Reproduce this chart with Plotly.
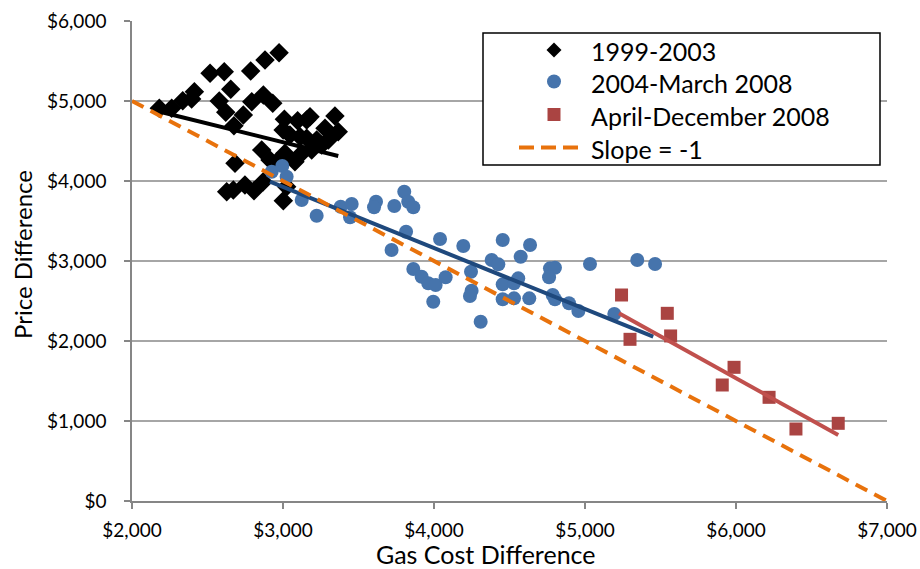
import plotly.graph_objects as go

# ---- Data ----
x_9903 = [2181, 2263, 2336, 2395, 2413, 2517, 2611, 2654, 2578, 2621, 2737, 2675, 2786, 2881, 2974,
          2793, 2870, 2932, 3009, 3097, 3179, 3157, 3344, 3366, 3278, 3001, 3046, 3113, 3157, 3223,
          3256, 3300, 3190, 3124, 2859, 3013, 3079, 2914, 2958, 2682, 2869, 2748, 2627, 2671, 2808,
          3002, 3024]
y_9903 = [4909, 4909, 5004, 5025, 5116, 5346, 5366, 5146, 5000, 4859, 4825, 4691, 5375, 5513, 5604,
          4991, 5075, 4971, 4771, 4754, 4804, 4763, 4813, 4616, 4659, 4638, 4575, 4554, 4534, 4513,
          4450, 4513, 4388, 4346, 4388, 4346, 4241, 4263, 4241, 4221, 3991, 3950, 3866, 3888, 3879,
          3754, 3929]

x_0408 = [2925, 2995, 3024, 3124, 3223, 3382, 3455, 3444, 3616, 3603, 3737, 3803, 3829, 3863, 3815,
          3719, 4040, 4194, 3863, 3918, 3962, 4011, 4077, 3995, 4245, 4249, 4238, 4309, 4382, 4455,
          4636, 4574, 4426, 4455, 4558, 4530, 4455, 4530, 4631, 4768, 4801, 4762, 4786, 4801, 4894,
          4956, 5033, 5194, 5346, 5464]
y_0408 = [4116, 4188, 4054, 3763, 3566, 3679, 3713, 3546, 3741, 3671, 3688, 3866, 3741, 3671, 3366,
          3138, 3275, 3188, 2900, 2804, 2721, 2700, 2796, 2491, 2866, 2629, 2563, 2241, 3013, 3263,
          3200, 3054, 2958, 2708, 2783, 2721, 2521, 2533, 2533, 2908, 2916, 2796, 2575, 2521, 2471,
          2375, 2963, 2338, 3013, 2963]

x_ad08 = [5242, 5298, 5545, 5567, 5987, 5909, 6219, 6397, 6677]
y_ad08 = [2575, 2021, 2346, 2063, 1671, 1450, 1296, 900, 971]

# Trend lines (end points)
trend_9903_x = [2185, 3366]
trend_9903_y = [4866, 4313]
trend_0408_x = [2914, 5452]
trend_0408_y = [3991, 2054]
trend_ad08_x = [5225, 6677]
trend_ad08_y = [2346, 825]

slope_x = [2000, 7000]
slope_y = [5000, 0]

series_names = ["1999-2003", "2004-March 2008", "April-December 2008", "Slope = -1"]

x_ticks = [2000, 3000, 4000, 5000, 6000, 7000]
x_tick_labels = ["$2,000", "$3,000", "$4,000", "$5,000", "$6,000", "$7,000"]
y_ticks = [0, 1000, 2000, 3000, 4000, 5000, 6000]
y_tick_labels = ["$0", "$1,000", "$2,000", "$3,000", "$4,000", "$5,000", "$6,000"]

FONT = "Lato"
C_BLACK = "#000000"
C_BLUE = "#4674AC"
C_BLUE_LINE = "#1F497D"
C_RED = "#AA4442"
C_RED_LINE = "#C0504D"
C_ORANGE = "#E8720C"
SLOPE_DASH = "13px,8px"

fig = go.Figure()

fig.add_trace(go.Scatter(x=trend_9903_x, y=trend_9903_y, mode="lines",
                         line=dict(color=C_BLACK, width=4), showlegend=False, hoverinfo="skip"))
fig.add_trace(go.Scatter(x=x_9903, y=y_9903, mode="markers", name=series_names[0],
                         marker=dict(symbol="diamond", size=15, color=C_BLACK, line=dict(width=0))))
fig.add_trace(go.Scatter(x=x_0408, y=y_0408, mode="markers", name=series_names[1],
                         marker=dict(symbol="circle", size=14, color=C_BLUE, line=dict(width=0))))
fig.add_trace(go.Scatter(x=trend_0408_x, y=trend_0408_y, mode="lines",
                         line=dict(color=C_BLUE_LINE, width=4), showlegend=False, hoverinfo="skip"))
fig.add_trace(go.Scatter(x=x_ad08, y=y_ad08, mode="markers", name=series_names[2],
                         marker=dict(symbol="square", size=13, color=C_RED, line=dict(width=0))))
fig.add_trace(go.Scatter(x=trend_ad08_x, y=trend_ad08_y, mode="lines",
                         line=dict(color=C_RED_LINE, width=4), showlegend=False, hoverinfo="skip"))
fig.add_trace(go.Scatter(x=slope_x, y=slope_y, mode="lines", name=series_names[3],
                         line=dict(color=C_ORANGE, width=4, dash=SLOPE_DASH)))

W, H = 920, 569
PL, PR, PT, PB = 132, 887, 21, 501  # plot area in pixels


def px(xp):
    return (xp - PL) / (PR - PL)


def py(yp):
    return (PB - yp) / (PB - PT)


shapes = []
annotations = []
shapes.append(dict(type="rect", xref="paper", yref="paper",
                   x0=px(483), x1=px(880), y0=py(165), y1=py(33),
                   line=dict(color="#000000", width=1.5), fillcolor="white", layer="above"))
row_y = [50, 81.5, 114.5, 147.5]
sym_x = 554
shapes.append(dict(type="path", xref="paper", yref="paper", xsizemode="pixel", ysizemode="pixel",
                   xanchor=px(sym_x), yanchor=py(row_y[0]),
                   path="M0,7.5 L7.5,0 L0,-7.5 L-7.5,0 Z",
                   fillcolor=C_BLACK, line=dict(width=0), layer="above"))
shapes.append(dict(type="circle", xref="paper", yref="paper", xsizemode="pixel", ysizemode="pixel",
                   xanchor=px(sym_x), yanchor=py(row_y[1]), x0=-7, x1=7, y0=-7, y1=7,
                   fillcolor=C_BLUE, line=dict(width=0), layer="above"))
shapes.append(dict(type="rect", xref="paper", yref="paper", xsizemode="pixel", ysizemode="pixel",
                   xanchor=px(sym_x), yanchor=py(row_y[2]), x0=-6.5, x1=6.5, y0=-6.5, y1=6.5,
                   fillcolor=C_RED, line=dict(width=0), layer="above"))
shapes.append(dict(type="line", xref="paper", yref="paper",
                   x0=px(519), x1=px(579), y0=py(row_y[3]), y1=py(row_y[3]),
                   line=dict(color=C_ORANGE, width=4, dash="15px,7px"), layer="above"))
for name, ry in zip(series_names, row_y):
    annotations.append(dict(xref="paper", yref="paper", x=px(589), y=py(ry + 1),
                            xanchor="left", yanchor="middle", showarrow=False,
                            text=name, font=dict(family=FONT, size=25, color="#000000")))

# Axis titles
annotations.append(dict(xref="paper", yref="paper", x=px(486), y=py(554),
                        xanchor="center", yanchor="middle", showarrow=False,
                        text="Gas Cost Difference", font=dict(family=FONT, size=25, color="#000000")))
annotations.append(dict(xref="paper", yref="paper", x=px(22), y=py(255),
                        xanchor="center", yanchor="middle", showarrow=False, textangle=-90,
                        text="Price Difference", font=dict(family=FONT, size=24, color="#000000")))

fig.update_layout(
    width=W, height=H,
    margin=dict(l=PL, r=W - PR, t=PT, b=H - PB, autoexpand=False),
    paper_bgcolor="white", plot_bgcolor="white",
    font=dict(family=FONT, size=19, color="#000000"),
    showlegend=False,
    shapes=shapes,
    annotations=annotations,
    xaxis=dict(range=[2000, 7000], tickvals=x_ticks, ticktext=x_tick_labels, automargin=False,
               showgrid=False, zeroline=False, showline=True, linecolor="#868686",
               linewidth=1.5, ticks="outside", ticklen=6, tickcolor="#868686", tickwidth=1.5,
               tickfont=dict(family=FONT, size=19), ticklabelstandoff=5),
    yaxis=dict(range=[0, 6000], tickvals=y_ticks, ticktext=y_tick_labels, automargin=False,
               showgrid=True, gridcolor="#A6A6A6", gridwidth=1.5, zeroline=False,
               showline=True, linecolor="#868686", linewidth=1.5,
               ticks="outside", ticklen=6, tickcolor="#868686", tickwidth=1.5,
               tickfont=dict(family=FONT, size=19), ticklabelstandoff=14),
)

# Remove the default 8px page margin so the figure fills the window exactly.
fig.write_html("out.html",
               config={"displayModeBar": False},
               post_script="document.body.style.margin='0';document.body.style.overflow='hidden';")
